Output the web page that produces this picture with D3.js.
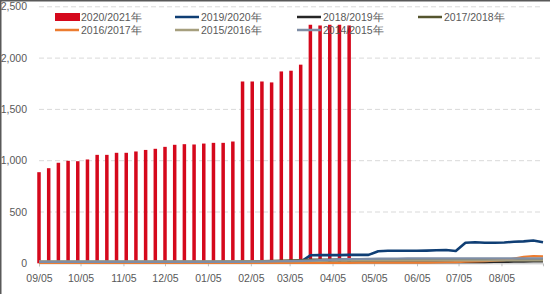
<!DOCTYPE html>
<html>
<head>
<meta charset="utf-8">
<script src="https://cdn.jsdelivr.net/npm/d3@7"></script>
<style>
  body { margin: 0; background: #fff; }
  svg text { font-family: "Liberation Sans", Arial, sans-serif; fill: #595959; }
</style>
</head>
<body>
<div id="chart"></div>
<script>
// Weekly values, season starting 2020-09-05
var startDay = '2020-09-05';
var endDay = '2021-09-04';
var monthTicks = ['2020-09-05', '2020-10-05', '2020-11-05', '2020-12-05', '2021-01-05', '2021-02-05',
                  '2021-03-05', '2021-04-05', '2021-05-05', '2021-06-05', '2021-07-05', '2021-08-05'];
var yTicks = [0, 500, 1000, 1500, 2000, 2500];

// 2020/2021 (bars)
var s2021 = [888, 927, 980, 999, 995, 1012, 1057, 1057, 1077, 1077, 1090,
             1105, 1116, 1135, 1155, 1161, 1158, 1167, 1174, 1174, 1187,
             1772, 1772, 1772, 1763, 1870, 1877, 1936, 2325, 2318, 2325, 2325, 2318];

// line series
var s2020 = [12, 12, 12, 12, 12, 12, 12, 12, 12, 12, 12, 12, 12, 12, 12, 12, 12, 12, 12, 12,
             12, 12, 12, 12, 12, 14, 14, 15, 78, 80, 80, 80, 82, 82, 82, 118, 122, 122, 122, 122,
             124, 127, 130, 120, 200, 205, 200, 200, 203, 210, 214, 222, 205];
var s2019 = [6, 6, 6, 6, 6, 6, 6, 6, 6, 6, 6, 6, 6, 6, 6, 6, 6, 6, 6, 6,
             6, 6, 7, 7, 7, 8, 8, 8, 8, 9, 9, 9, 10, 10, 10, 10, 10, 10, 10, 10,
             10, 10, 10, 12, 12, 12, 12, 13, 14, 15, 16, 18, 18];
var s2018 = [10, 10, 10, 10, 11, 11, 11, 11, 12, 12, 12, 12, 13, 13, 13, 14, 14, 15, 15, 16,
             17, 18, 20, 22, 24, 26, 28, 32, 35, 36, 37, 38, 38, 38, 38, 38, 38, 38, 38, 38,
             38, 38, 38, 36, 36, 36, 36, 35, 35, 35, 35, 35, 35];
var s2017 = [4, 4, 4, 4, 4, 4, 4, 4, 4, 4, 4, 4, 4, 4, 4, 4, 4, 4, 4, 4,
             4, 4, 4, 4, 4, 4, 4, 5, 5, 5, 5, 5, 5, 6, 6, 6, 6, 6, 6, 6,
             6, 8, 10, 12, 15, 18, 22, 26, 30, 45, 62, 70, 68];
var s2016 = [18, 18, 18, 18, 18, 18, 18, 18, 18, 18, 18, 18, 18, 18, 18, 18, 18, 18, 18, 18,
             18, 18, 18, 20, 20, 20, 22, 22, 24, 24, 26, 26, 26, 28, 28, 28, 28, 28, 28, 28,
             28, 28, 28, 28, 28, 28, 28, 28, 28, 28, 28, 28, 28];
var s2015 = [14, 14, 14, 14, 14, 14, 14, 14, 14, 14, 14, 14, 14, 14, 14, 14, 14, 14, 14, 14,
             14, 14, 15, 16, 18, 20, 22, 24, 26, 30, 34, 38, 40, 42, 44, 45, 46, 47, 48, 48,
             48, 48, 48, 48, 48, 48, 48, 48, 48, 48, 48, 48, 48];

var seasons = ['2020/2021年', '2019/2020年', '2018/2019年', '2017/2018年', '2016/2017年', '2015/2016年', '2014/2015年'];
var colors = ['#d5081c', '#0f3e74', '#262626', '#55552e', '#ec7c30', '#a69f7e', '#7f8ea6'];
var lineData = [s2020, s2019, s2018, s2017, s2016, s2015];

var width = 550, height = 294;
var parse = d3.timeParse('%Y-%m-%d');

var svg = d3.select('#chart').append('svg')
    .attr('width', width)
    .attr('height', height);

// Scales
var xScale = d3.scaleTime()
    .domain([parse(startDay), parse(endDay)])
    .range([39, 543]);
var yScale = d3.scaleLinear()
    .domain([0, 2500])
    .range([263.3, 6.8]);

function weekDate(i) {
    return d3.timeDay.offset(parse(startDay), i * 7);
}

// Frame edges
svg.append('line').attr('x1', 0).attr('x2', width).attr('y1', 0.75).attr('y2', 0.75)
    .attr('stroke', '#595959').attr('stroke-width', 1.5);
svg.append('line').attr('x1', 0.75).attr('x2', 0.75).attr('y1', 0).attr('y2', height)
    .attr('stroke', '#595959').attr('stroke-width', 1.5);

// Gridlines
svg.append('g')
    .selectAll('line')
    .data(yTicks.filter(function(d) { return d > 0; }))
    .enter()
    .append('line')
    .attr('x1', 39)
    .attr('x2', 543)
    .attr('y1', function(d) { return yScale(d); })
    .attr('y2', function(d) { return yScale(d); })
    .attr('stroke', '#d9d9d9')
    .attr('stroke-width', 1)
    .attr('stroke-dasharray', '5,3');

// y axis labels
svg.append('g')
    .selectAll('text')
    .data(yTicks)
    .enter()
    .append('text')
    .attr('x', 27)
    .attr('y', function(d) { return yScale(d); })
    .attr('dy', '0.35em')
    .attr('text-anchor', 'end')
    .style('font-size', '10.5px')
    .text(function(d) { return d3.format(',')(d); });

// x axis
var xAxis = d3.axisBottom(xScale)
    .tickValues(monthTicks.map(parse))
    .tickFormat(d3.timeFormat('%m/%d'))
    .tickSize(3)
    .tickPadding(8);
var gx = svg.append('g')
    .attr('class', 'x axis')
    .attr('transform', 'translate(0,263.3)')
    .call(xAxis);
gx.select('.domain').attr('stroke', '#bfbfbf');
gx.selectAll('.tick line').attr('stroke', '#bfbfbf');
gx.selectAll('.tick text').style('font-size', '10.5px').attr('fill', '#595959');

// Bars 2020/2021
var barW = 3.5;
svg.append('g')
    .selectAll('rect')
    .data(s2021)
    .enter()
    .append('rect')
    .attr('x', function(d, i) { return xScale(weekDate(i)) - barW / 2; })
    .attr('y', function(d) { return yScale(d); })
    .attr('width', barW)
    .attr('height', function(d) { return yScale(0) - yScale(d); })
    .attr('fill', colors[0]);

// Lines
var line = d3.line()
    .x(function(d, i) { return xScale(weekDate(i)); })
    .y(function(d) { return yScale(d); });

svg.append('g')
    .selectAll('path')
    .data(lineData)
    .enter()
    .append('path')
    .attr('d', function(d) { return line(d); })
    .attr('fill', 'none')
    .attr('stroke', function(d, i) { return colors[i + 1]; })
    .attr('stroke-width', function(d, i) { return i === 0 ? 2.6 : 2.2; })
    .attr('stroke-linejoin', 'round');

// Legend
var legendX = [55, 175, 297, 418];
var legend = svg.append('g')
    .selectAll('g')
    .data(seasons)
    .enter()
    .append('g')
    .attr('transform', function(d, i) {
        var row = i < 4 ? 0 : 1;
        var col = i < 4 ? i : i - 4;
        return 'translate(' + legendX[col] + ',' + (17 + row * 13) + ')';
    });

legend.each(function(d, i) {
    var g = d3.select(this);
    if (i === 0) {
        g.append('rect').attr('x', 0).attr('y', -4).attr('width', 25).attr('height', 8)
            .attr('fill', colors[i]);
    } else {
        g.append('line').attr('x1', 0).attr('x2', 24).attr('y1', 0).attr('y2', 0)
            .attr('stroke', colors[i]).attr('stroke-width', 2.5);
    }
    g.append('text')
        .attr('x', i === 0 ? 26 : 26)
        .attr('y', 0)
        .attr('dy', '0.35em')
        .style('font-size', '10.5px')
        .text(d);
});
</script>
</body>
</html>
